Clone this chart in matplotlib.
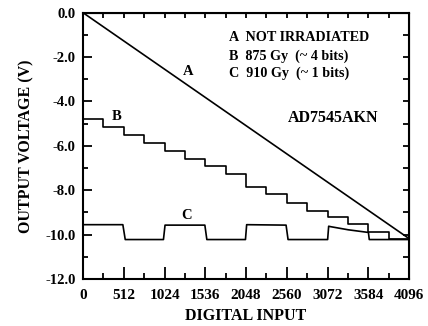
import matplotlib.pyplot as plt
from matplotlib.ticker import MultipleLocator

# curve A: straight line (not irradiated)
a_code = [0, 4096]
a_volt = [0.0, -10.18]

# curve B: 875 Gy, 16 levels of 256 codes each
b_code = [0, 256, 512, 768, 1024, 1280, 1536, 1792, 2048, 2304, 2560, 2816,
          3072, 3328, 3584, 3840, 4096]
b_volt = [-4.80, -5.16, -5.51, -5.89, -6.22, -6.57, -6.91, -7.28, -7.87,
          -8.18, -8.58, -8.92, -9.19, -9.52, -9.90, -10.18, -10.18]

# curve C: 910 Gy
c_code = [0, 500, 530, 1010, 1030, 1530, 1555, 2040, 2055, 2550, 2575, 3072,
          3085, 3110, 3330, 3584, 3595, 4096]
c_volt = [-9.55, -9.55, -10.22, -10.22, -9.57, -9.57, -10.22, -10.22, -9.55,
          -9.57, -10.22, -10.22, -9.62, -9.64, -9.78, -9.90, -10.22, -10.22]

x_ticks = [0, 512, 1024, 1536, 2048, 2560, 3072, 3584, 4096]
y_ticks = [0.0, -2.0, -4.0, -6.0, -8.0, -10.0, -12.0]

plt.rcParams['font.family'] = ['Liberation Serif', 'DejaVu Serif']
plt.rcParams['font.weight'] = 'bold'

fig = plt.figure(figsize=(4.28, 3.26), dpi=100)
ax = fig.add_axes([0.194, 0.144, 0.762, 0.817])

ax.plot(a_code, a_volt, color='black', lw=1.2)
ax.step(b_code, b_volt, where='post', color='black', lw=1.2)
ax.plot(c_code, c_volt, color='black', lw=1.2)

ax.set_xlim(0, 4096)
ax.set_ylim(-12, 0)
ax.set_xticks(x_ticks)
ax.set_xticklabels([str(t) for t in x_ticks], fontsize=11, fontweight='bold')
ax.set_yticks(y_ticks)
ax.set_yticklabels(['%.1f' % t for t in y_ticks], fontsize=10.5, fontweight='bold')
ax.xaxis.set_minor_locator(MultipleLocator(256))
ax.yaxis.set_minor_locator(MultipleLocator(1.0))
ax.tick_params(axis='x', which='major', direction='in', length=8.5, width=1.3, pad=7.5)
ax.tick_params(axis='x', which='minor', direction='in', length=4, width=1.3)
ax.tick_params(axis='y', which='major', direction='in', length=6.5, width=1.3, pad=5.5)
ax.tick_params(axis='y', which='minor', direction='in', length=3.6, width=1.3)
for s in ax.spines.values():
    s.set_linewidth(1.5)

top = ax.secondary_xaxis('top')
top.set_xticks(range(0, 4097, 256))
top.set_xticklabels([])
top.tick_params(direction='in', length=3.8, width=1.3)
right = ax.secondary_yaxis('right')
right.set_yticks(range(-12, 1))
right.set_yticklabels([])
right.tick_params(direction='in', length=4.5, width=1.3)

ax.set_xlabel('DIGITAL INPUT', fontsize=11.5, fontweight='bold', labelpad=4)
ax.set_ylabel('OUTPUT VOLTAGE (V)', fontsize=11.5, fontweight='bold', labelpad=8)

ax.text(1323, -2.66, 'A', fontsize=10.5, fontweight='bold', ha='center', va='center')
ax.text(423, -4.69, 'B', fontsize=10.5, fontweight='bold', ha='center', va='center')
ax.text(1303, -9.12, 'C', fontsize=10.5, fontweight='bold', ha='center', va='center')

ax.text(1834, -1.13, 'A  NOT IRRADIATED', fontsize=10.2, fontweight='bold', va='center')
ax.text(1834, -1.94, 'B  875 Gy  (~ 4 bits)', fontsize=10.2, fontweight='bold', va='center')
ax.text(1834, -2.72, 'C  910 Gy  (~ 1 bits)', fontsize=10.2, fontweight='bold', va='center')
ax.text(3141, -4.76, 'AD7545AKN', fontsize=11.5, fontweight='bold', ha='center', va='center')

fig.savefig('out.png', dpi=100)
